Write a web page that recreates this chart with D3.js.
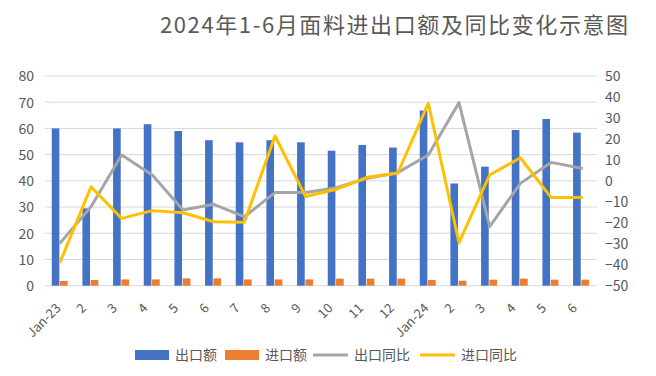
<!DOCTYPE html>
<html>
<head>
<meta charset="utf-8">
<script src="https://cdn.jsdelivr.net/npm/d3@7"></script>
<style>
	body { margin: 0; background: #fff; }
	svg text { font-family: "Noto Sans CJK SC", "Noto Sans", sans-serif; fill: #595959; }
	.grid line { stroke: #d9d9d9; stroke-width: 1; }
</style>
</head>
<body>
<div class="container"></div>
<script>
const WIDTH = 656
	, HEIGHT = 376
	, LEFT = 45
	, RIGHT = 597
	, TOP = 76
	, BOTTOM = 285.7;

// months Jan-23 .. Jun-24
var categories = ['Jan-23', '2', '3', '4', '5', '6', '7', '8', '9', '10', '11', '12',
	'Jan-24', '2', '3', '4', '5', '6'];
var exportValue = [60, 29.5, 60, 61.6, 59, 55.5, 54.7, 55.5, 54.7, 51.5, 53.7, 52.7,
	66.8, 39, 45.4, 59.4, 63.6, 58.4];
var importValue = [1.8, 2.2, 2.4, 2.4, 2.8, 2.8, 2.4, 2.4, 2.4, 2.7, 2.7, 2.7,
	2.2, 1.9, 2.3, 2.7, 2.3, 2.3];
var exportYoY = [-29.5, -12.3, 12.3, 2.8, -13.9, -11.2, -17.1, -5.6, -5.6, -3.3, 1.2, 3.9,
	12.3, 37.3, -21.8, -1.2, 8.8, 6];
var importYoY = [-38.5, -2.8, -17.9, -14.2, -15.2, -19.5, -19.8, 21.4, -7.5, -4, 1.7, 3.6,
	37, -29.5, 2.8, 11, -7.9, -7.9];
var leftTicks = [0, 10, 20, 30, 40, 50, 60, 70, 80];
var rightTicks = [-50, -40, -30, -20, -10, 0, 10, 20, 30, 40, 50];
var seriesNames = ['出口额', '进口额', '出口同比', '进口同比'];
var colors = ['#4472c4', '#ed7d31', '#a5a5a5', '#ffc000'];
var title = '2024年1-6月面料进出口额及同比变化示意图';

var svg = d3.select('.container').append('svg')
	.attr('width', WIDTH)
	.attr('height', HEIGHT);

var idx = d3.range(categories.length);
var x = d3.scaleBand().domain(idx).range([LEFT, RIGHT]).padding(0);
var xSub = d3.scaleBand().domain([0, 1])
	.range([x.bandwidth() * 0.22, x.bandwidth() * 0.74]).paddingInner(0.08);
var yLeft = d3.scaleLinear().domain([0, 80]).range([BOTTOM, TOP]);
var yRight = d3.scaleLinear().domain([-50, 50]).range([BOTTOM, TOP]);

// grid
svg.append('g').attr('class', 'grid')
	.selectAll('line').data(leftTicks).enter().append('line')
	.attr('x1', LEFT).attr('x2', RIGHT)
	.attr('y1', function (d) { return yLeft(d); })
	.attr('y2', function (d) { return yLeft(d); });

// left axis
var leftAxis = svg.append('g')
	.attr('transform', 'translate(' + (LEFT - 11) + ',0)')
	.call(d3.axisLeft(yLeft).tickValues(leftTicks).tickSize(0).tickPadding(0));
leftAxis.select('.domain').remove();
leftAxis.selectAll('text').style('font-size', '14px').attr('dy', '0.35em');

// right axis
var rightAxis = svg.append('g')
	.attr('transform', 'translate(' + (RIGHT + 8) + ',0)')
	.call(d3.axisRight(yRight).tickValues(rightTicks).tickSize(0).tickPadding(0));
rightAxis.select('.domain').remove();
rightAxis.selectAll('text').style('font-size', '14px').attr('dy', '0.35em');

// bars
var groups = svg.append('g').selectAll('g').data(idx).enter().append('g')
	.attr('transform', function (i) { return 'translate(' + x(i) + ',0)'; });
groups.append('rect')
	.attr('x', xSub(0)).attr('width', xSub.bandwidth())
	.attr('y', function (i) { return yLeft(exportValue[i]); })
	.attr('height', function (i) { return BOTTOM - yLeft(exportValue[i]); })
	.attr('fill', colors[0]);
groups.append('rect')
	.attr('x', xSub(1)).attr('width', xSub.bandwidth())
	.attr('y', function (i) { return yLeft(importValue[i]); })
	.attr('height', function (i) { return BOTTOM - yLeft(importValue[i]); })
	.attr('fill', colors[1]);

// lines
var line = d3.line()
	.x(function (d, i) { return x(i) + x.bandwidth() / 2; })
	.y(function (d) { return yRight(d); });
[exportYoY, importYoY].forEach(function (series, k) {
	svg.append('path')
		.attr('d', line(series))
		.attr('fill', 'none')
		.attr('stroke', colors[k + 2])
		.attr('stroke-width', 3)
		.attr('stroke-linejoin', 'round')
		.attr('stroke-linecap', 'round');
});

// category labels, rotated; short labels sit a bit further left like in excel
svg.append('g').selectAll('text').data(idx).enter().append('text')
	.attr('transform', function (i) {
		var shift = Math.min(categories[i].length, 6) - 8;
		return 'translate(' + (x(i) + x.bandwidth() / 2 + shift) + ',' + (BOTTOM + 20) + ') rotate(-45)';
	})
	.attr('text-anchor', 'end')
	.attr('dy', '0.35em')
	.style('font-size', '13px')
	.text(function (i) { return categories[i]; });

// title
svg.append('text')
	.attr('x', 160).attr('y', 33)
	.style('font-size', '22px')
	.style('letter-spacing', '1.6px')
	.text(title);

// legend
var legendX = [135, 225, 313, 420];
var legend = svg.append('g').selectAll('g').data(seriesNames).enter().append('g')
	.attr('transform', function (d, i) { return 'translate(' + legendX[i] + ',355)'; });
legend.each(function (d, i) {
	var g = d3.select(this);
	if (i < 2) {
		g.append('rect').attr('x', 0).attr('y', -5).attr('width', 34).attr('height', 10)
			.attr('fill', colors[i]);
	} else {
		g.append('line').attr('x1', 0).attr('x2', 35).attr('y1', 0).attr('y2', 0)
			.attr('stroke', colors[i]).attr('stroke-width', 3);
	}
	g.append('text').attr('x', i < 2 ? 40 : 41).attr('dy', '0.35em')
		.style('font-size', '14px').text(d);
});
</script>
</body>
</html>
